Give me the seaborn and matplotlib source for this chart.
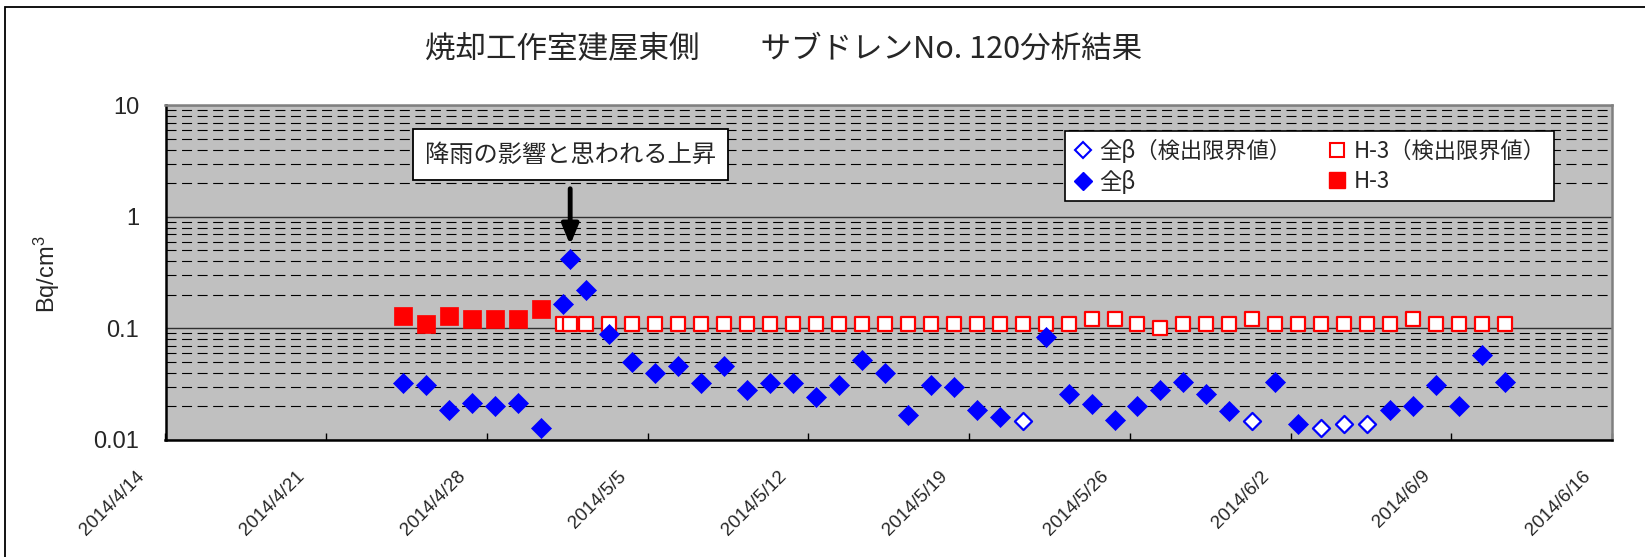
import matplotlib
matplotlib.use("Agg")
import matplotlib.pyplot as plt
import matplotlib.ticker as mticker
from matplotlib.lines import Line2D
from matplotlib.patches import Rectangle
import matplotlib.transforms as mtrans
import numpy as np
import pandas as pd
import seaborn as sns

# ---- data -------------------------------------------------------------
sample_time = [
    "2014-04-24 08:00", "2014-04-25 08:00", "2014-04-26 08:00", "2014-04-27 08:00",
    "2014-04-28 08:00", "2014-04-29 08:00", "2014-04-30 08:00",
    "2014-05-01 07:00", "2014-05-01 15:00",
    "2014-05-02 08:00", "2014-05-03 08:00", "2014-05-04 08:00", "2014-05-05 08:00",
    "2014-05-06 08:00", "2014-05-07 08:00", "2014-05-08 08:00", "2014-05-09 08:00",
    "2014-05-10 08:00", "2014-05-11 08:00", "2014-05-12 08:00", "2014-05-13 08:00",
    "2014-05-14 08:00", "2014-05-15 08:00", "2014-05-16 08:00", "2014-05-17 08:00",
    "2014-05-18 08:00", "2014-05-19 08:00", "2014-05-20 08:00", "2014-05-21 08:00",
    "2014-05-22 08:00", "2014-05-23 08:00", "2014-05-24 08:00", "2014-05-25 08:00",
    "2014-05-26 08:00", "2014-05-27 08:00", "2014-05-28 08:00", "2014-05-29 08:00",
    "2014-05-30 08:00", "2014-05-31 08:00",
    "2014-06-01 08:00", "2014-06-02 08:00", "2014-06-03 08:00", "2014-06-04 08:00",
    "2014-06-05 08:00", "2014-06-06 08:00", "2014-06-07 08:00", "2014-06-08 08:00",
    "2014-06-09 08:00", "2014-06-10 08:00", "2014-06-11 08:00",
]

# gross beta (Bq/cm3); below-limit samples hold the detection limit
beta = [
    0.032, 0.031, 0.0185, 0.0215, 0.020, 0.0215, 0.0128,
    0.166, 0.42,
    0.222, 0.089, 0.050, 0.040, 0.046, 0.032, 0.046, 0.028,
    0.032, 0.032, 0.024, 0.031, 0.052, 0.040, 0.0166, 0.031,
    0.030, 0.0185, 0.016, 0.0148, 0.083, 0.026, 0.021, 0.015,
    0.020, 0.028, 0.033, 0.026, 0.018, 0.0148,
    0.033, 0.014, 0.0128, 0.014, 0.014, 0.0185, 0.020, 0.031,
    0.020, 0.058, 0.033,
]
beta_below_limit = ["2014-05-21", "2014-05-31", "2014-06-03", "2014-06-04", "2014-06-05"]

# tritium (Bq/cm3); below-limit samples hold the detection limit
h3 = [
    0.13, 0.11, 0.13, 0.12, 0.12, 0.12, 0.15,
    0.11, 0.11,
    0.11, 0.11, 0.11, 0.11, 0.11, 0.11, 0.11, 0.11,
    0.11, 0.11, 0.11, 0.11, 0.11, 0.11, 0.11, 0.11,
    0.11, 0.11, 0.11, 0.11, 0.11, 0.11, 0.12, 0.12,
    0.11, 0.10, 0.11, 0.11, 0.11, 0.12,
    0.11, 0.11, 0.11, 0.11, 0.11, 0.11, 0.12, 0.11,
    0.11, 0.11, 0.11,
]
h3_detected_until = "2014-04-30 23:59"

tick_dates = ["2014-04-14", "2014-04-21", "2014-04-28", "2014-05-05", "2014-05-12",
              "2014-05-19", "2014-05-26", "2014-06-02", "2014-06-09", "2014-06-16"]
tick_labels = ["2014/4/14", "2014/4/21", "2014/4/28", "2014/5/5", "2014/5/12",
               "2014/5/19", "2014/5/26", "2014/6/2", "2014/6/9", "2014/6/16"]
y_ticks = [0.01, 0.1, 1, 10]
y_tick_labels = ["0.01", "0.1", "1", "10"]

title = "焼却工作室建屋東側　　サブドレンNo. 120分析結果"
note = "降雨の影響と思われる上昇"
rain_peak_time = "2014-05-01 15:00"
rain_peak_value = 0.42

lbl_beta_nd = "全β（検出限界値）"
lbl_beta = "全β"
lbl_h3_nd = "H-3（検出限界値）"
lbl_h3 = "H-3"

# ---- frames -------------------------------------------------------------
df = pd.DataFrame({"time": pd.to_datetime(sample_time), "beta": beta, "h3": h3})
df["day"] = df["time"].dt.normalize()
beta_nd_mask = df["day"].isin(pd.to_datetime(beta_below_limit))
h3_det_mask = df["time"] <= pd.Timestamp(h3_detected_until)

# ---- style ------------------------------------------------------------
sns.set_theme(style="white")
JP = ["Noto Sans CJK JP", "DejaVu Sans"]
plt.rcParams["font.family"] = ["Liberation Sans", "Noto Sans CJK JP", "DejaVu Sans"]
plt.rcParams["mathtext.fontset"] = "custom"
plt.rcParams["mathtext.rm"] = "Liberation Sans"
plt.rcParams["mathtext.it"] = "Liberation Sans"

BLUE = "#0000FF"
RED = "#FF0000"

fig = plt.figure(figsize=(16.45, 5.57), dpi=100)
fig.patch.set_facecolor("white")
ax = fig.add_axes([165.5 / 1645, 1 - 439.8 / 557, (1612 - 165.5) / 1645, (439.8 - 105.3) / 557])
ax.set_facecolor("#C0C0C0")

# H-3 first so the beta diamonds sit on top
sns.scatterplot(data=df[h3_det_mask], x="time", y="h3", marker="s", s=150,
                color=RED, edgecolor=RED, linewidth=0.5, ax=ax, zorder=3, legend=False)
sns.scatterplot(data=df[~h3_det_mask], x="time", y="h3", marker="s", s=112,
                color="white", edgecolor=RED, linewidth=1.6, ax=ax, zorder=3, legend=False)
sns.scatterplot(data=df[~beta_nd_mask], x="time", y="beta", marker="D", s=104,
                color=BLUE, edgecolor=BLUE, linewidth=0.5, ax=ax, zorder=4, legend=False)
sns.scatterplot(data=df[beta_nd_mask], x="time", y="beta", marker="D", s=76,
                color="white", edgecolor=BLUE, linewidth=1.6, ax=ax, zorder=4, legend=False)

# ---- axes ------------------------------------------------------------
ax.set_yscale("log")
ax.set_ylim(0.01, 10)
ax.set_xlim(pd.Timestamp(tick_dates[0]), pd.Timestamp(tick_dates[-1]))
ax.yaxis.set_major_locator(mticker.FixedLocator(y_ticks))
ax.yaxis.set_major_formatter(mticker.FixedFormatter(y_tick_labels))
ax.yaxis.set_minor_locator(mticker.LogLocator(base=10, subs=np.arange(2, 10)))
ax.yaxis.set_minor_formatter(mticker.NullFormatter())
ax.set_xticks(pd.to_datetime(tick_dates))
ax.set_xticklabels(tick_labels, rotation=45, ha="right", fontsize=13.5)
ax.set_xlabel("")
ax.set_ylabel("")

ax.yaxis.grid(True, which="major", color="#303030", linewidth=1.0, linestyle="-")
ax.yaxis.grid(True, which="minor", color="black", linewidth=0.8, linestyle=(0, (9, 5)))
ax.xaxis.grid(False)
ax.set_axisbelow(True)

ax.tick_params(axis="y", which="major", direction="in", length=5, width=1, color="black",
               labelsize=17, pad=19)
ax.tick_params(axis="y", which="minor", length=0)
ax.tick_params(axis="x", which="major", direction="in", length=5, width=1, color="black",
               pad=20, bottom=True)

shift = mtrans.ScaledTranslation(-18 / 100, 0, fig.dpi_scale_trans)
for lab in ax.get_xticklabels():
    lab.set_transform(lab.get_transform() + shift)

for side in ("left", "bottom"):
    ax.spines[side].set_color("black")
    ax.spines[side].set_linewidth(1.8)
for side in ("top", "right"):
    ax.spines[side].set_color("#808080")
    ax.spines[side].set_linewidth(1.8)

# ---- labels ----------------------------------------------------------
fig.text(783.5 / 1645, 1 - 50 / 557, title, ha="center", va="center", fontsize=22, family=JP)
fig.text(47 / 1645, 1 - 274 / 557, "Bq/cm$^3$", ha="center", va="center", rotation=90, fontsize=17)

ax.annotate(note, xy=(pd.Timestamp(rain_peak_time), rain_peak_value),
            xytext=(0, 75), textcoords="offset points", ha="center", va="center",
            fontsize=17.5, family=JP, zorder=6,
            bbox=dict(boxstyle="square,pad=0.5", fc="white", ec="black", lw=1.3),
            arrowprops=dict(arrowstyle="-|>,head_length=0.6,head_width=0.25",
                            mutation_scale=20, lw=3.5, color="black",
                            shrinkA=6, shrinkB=10))

handles = [
    Line2D([], [], marker="D", linestyle="none", markersize=8, markerfacecolor="white",
           markeredgecolor=BLUE, markeredgewidth=1.5),
    Line2D([], [], marker="D", linestyle="none", markersize=9, markerfacecolor=BLUE,
           markeredgecolor=BLUE),
    Line2D([], [], marker="s", linestyle="none", markersize=10, markerfacecolor="white",
           markeredgecolor=RED, markeredgewidth=1.5),
    Line2D([], [], marker="s", linestyle="none", markersize=11, markerfacecolor=RED,
           markeredgecolor=RED),
]
leg = ax.legend(handles, [lbl_beta_nd, lbl_beta, lbl_h3_nd, lbl_h3], ncol=2,
                loc="upper left", bbox_to_anchor=(0.622, 0.923), frameon=True,
                fancybox=False, framealpha=1, edgecolor="black",
                prop={"family": JP, "size": 16}, handlelength=0.9, handletextpad=0.3,
                columnspacing=1.6, labelspacing=0.3, borderpad=0.35, borderaxespad=0)
leg.get_frame().set_linewidth(1.2)
leg.set_zorder(7)

# outer chart frame
fig.patches.append(Rectangle((5 / 1645, -0.1), 1.2, 1.1 - 7 / 557, transform=fig.transFigure,
                             fill=False, edgecolor="black", linewidth=1.3, zorder=0))

fig.savefig("out.png", dpi=100, facecolor="white")
